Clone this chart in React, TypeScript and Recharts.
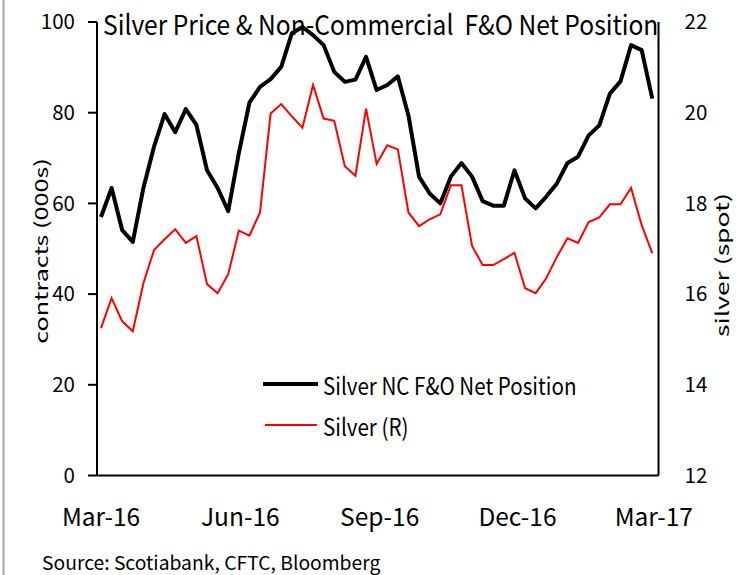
import React from "react";
import { LineChart, Line, XAxis, YAxis, Legend } from "recharts";

// weekly CFTC report dates (Tuesdays)
const weeks = [
  "2016-03-01", "2016-03-08", "2016-03-15", "2016-03-22", "2016-03-29",
  "2016-04-05", "2016-04-12", "2016-04-19", "2016-04-26",
  "2016-05-03", "2016-05-10", "2016-05-17", "2016-05-24", "2016-05-31",
  "2016-06-07", "2016-06-14", "2016-06-21", "2016-06-28",
  "2016-07-05", "2016-07-12", "2016-07-19", "2016-07-26",
  "2016-08-02", "2016-08-09", "2016-08-16", "2016-08-23", "2016-08-30",
  "2016-09-06", "2016-09-13", "2016-09-20", "2016-09-27",
  "2016-10-04", "2016-10-11", "2016-10-18", "2016-10-25",
  "2016-11-01", "2016-11-08", "2016-11-15", "2016-11-22", "2016-11-29",
  "2016-12-06", "2016-12-13", "2016-12-20", "2016-12-27",
  "2017-01-03", "2017-01-10", "2017-01-17", "2017-01-24", "2017-01-31",
  "2017-02-07", "2017-02-14", "2017-02-21", "2017-02-28",
];

// contracts (000s), left axis
const netPosition = [
  57.0, 63.4, 54.1, 51.5, 63.4, 72.5, 79.7, 75.7, 80.8, 77.3,
  67.3, 63.4, 58.3, 71.1, 82.2, 85.7, 87.4, 90.1, 97.5, 98.9,
  97.1, 94.9, 89.0, 86.8, 87.3, 92.3, 85.0, 86.1, 88.0, 79.4,
  65.9, 62.2, 60.0, 65.9, 68.9, 65.9, 60.5, 59.5, 59.5, 67.3,
  61.1, 58.9, 61.5, 64.4, 68.9, 70.3, 75.0, 77.2, 84.2, 86.9,
  94.9, 93.8, 83.1,
];

// silver spot, right axis
const silverSpot = [
  15.25, 15.91, 15.40, 15.18, 16.24, 16.97, 17.21, 17.43, 17.13, 17.28,
  16.22, 16.02, 16.44, 17.40, 17.29, 17.80, 19.98, 20.19, 19.92, 19.67,
  20.61, 19.87, 19.82, 18.82, 18.61, 20.09, 18.87, 19.28, 19.19, 17.80,
  17.50, 17.65, 17.76, 18.40, 18.40, 17.06, 16.64, 16.64, 16.77, 16.91,
  16.13, 16.02, 16.35, 16.82, 17.23, 17.13, 17.59, 17.69, 17.98, 17.98,
  18.34, 17.52, 16.90,
];

const xTickDates = ["2016-03-01", "2016-06-01", "2016-09-01", "2016-12-01", "2017-03-01"];
const xTickLabels = ["Mar-16", "Jun-16", "Sep-16", "Dec-16", "Mar-17"];
const leftTicks = [0, 20, 40, 60, 80, 100];
const rightTicks = [12, 14, 16, 18, 20, 22];

const FONT = '"Noto Sans CJK SC", Lato, sans-serif';
const DAY = 86400000;
const toTime = (d: string) => Date.parse(d + "T00:00:00Z");

const data = weeks.map((w, i) => ({ t: toTime(w), net: netPosition[i], silver: silverSpot[i] }));
const xTicks = xTickDates.map(toTime);
const xDomain = [toTime(weeks[0]) - 2.64 * DAY, toTime(weeks[weeks.length - 1]) + 4.1 * DAY];
const fmtX = (v: number) => xTickLabels[xTicks.indexOf(v)] ?? "";

const axisStroke = { stroke: "#000", strokeWidth: 2 };

// legend rows, in the reference's order
const legendRows: Record<string, { row: number; x1: number; x2: number; w: number }> = {
  net: { row: 0, x1: 1, x2: 56, w: 4 },
  silver: { row: 1, x1: 3, x2: 55, w: 2 },
};
const rowLineY = [19, 60];
const rowTextY = [30, 71];

function LegendBox(props: any) {
  const payload = props.payload || [];
  return (
    <svg width={400} height={80} style={{ display: "block", overflow: "visible" }}>
      {payload.map((p: any) => {
        const r = legendRows[p.dataKey] || legendRows.net;
        return (
          <g key={p.dataKey}>
            <line
              x1={r.x1}
              x2={r.x2}
              y1={rowLineY[r.row]}
              y2={rowLineY[r.row]}
              stroke={p.color}
              strokeWidth={r.w}
            />
            <text
              transform={`translate(61,${rowTextY[r.row]}) scale(1,1.15)`}
              fontFamily={FONT}
              fontSize={20.6}
              fill="#000"
            >
              {p.value}
            </text>
          </g>
        );
      })}
    </svg>
  );
}

export default function App() {
  return (
    <div
      style={{
        position: "absolute",
        left: 0,
        top: 0,
        width: 739,
        height: 575,
        background: "#fff",
        overflow: "hidden",
        fontFamily: FONT,
      }}
    >
      <LineChart width={739} height={575} data={data} margin={{ top: 22, right: 0, bottom: 39.5, left: 0 }}>
        <XAxis
          type="number"
          dataKey="t"
          domain={xDomain}
          ticks={xTicks}
          tickFormatter={fmtX}
          interval={0}
          allowDataOverflow
          height={60}
          axisLine={axisStroke}
          tickLine={false}
          tickSize={0}
          tickMargin={33}
          tick={{ fill: "#000", fontSize: 24.5, fontFamily: FONT }}
        />
        <YAxis
          yAxisId="left"
          domain={[0, 100]}
          ticks={leftTicks}
          interval={0}
          width={97}
          axisLine={axisStroke}
          tickLine={axisStroke}
          tickSize={9}
          tickMargin={13}
          tick={{ fill: "#000", fontSize: 20.5, fontFamily: FONT }}
        />
        <YAxis
          yAxisId="right"
          orientation="right"
          domain={[12, 22]}
          ticks={rightTicks}
          interval={0}
          width={80.5}
          axisLine={axisStroke}
          tickLine={false}
          tickSize={0}
          tickMargin={26}
          tick={{ fill: "#000", fontSize: 20.5, fontFamily: FONT }}
        />
        <Legend
          layout="horizontal"
          verticalAlign="middle"
          align="center"
          itemSorter={null}
          content={<LegendBox />}
          wrapperStyle={{ position: "absolute", left: 262, top: 365, width: 400, height: 80 }}
        />
        <Line
          yAxisId="left"
          type="linear"
          dataKey="net"
          name="Silver NC F&O Net Position"
          stroke="#000"
          strokeWidth={4}
          strokeLinejoin="round"
          dot={false}
          activeDot={false}
          isAnimationActive={false}
        />
        <Line
          yAxisId="right"
          type="linear"
          dataKey="silver"
          name="Silver (R)"
          stroke="#ff0000"
          strokeWidth={2}
          dot={false}
          activeDot={false}
          isAnimationActive={false}
        />
      </LineChart>
      <svg
        width={739}
        height={575}
        style={{ position: "absolute", left: 0, top: 0, pointerEvents: "none" }}
      >
        <line x1={3.5} x2={3.5} y1={0} y2={575} stroke="#a6a6a6" strokeWidth={2} />
        <text
          transform="translate(103,35) scale(1,1.12)"
          fontFamily={FONT}
          fontSize={24.6}
          fill="#000"
          style={{ whiteSpace: "pre" }}
        >
          {"Silver Price & Non-Commercial  F&O Net Position"}
        </text>
        <text
          transform="translate(40,251) scale(1,1.4) rotate(-90)"
          textAnchor="middle"
          dominantBaseline="central"
          fontFamily={FONT}
          fontSize={18}
          fill="#000"
        >
          contracts (000s)
        </text>
        <text
          transform="translate(721.5,265) scale(1,1.47) rotate(-90)"
          textAnchor="middle"
          dominantBaseline="central"
          fontFamily={FONT}
          fontSize={18}
          fill="#000"
        >
          silver (spot)
        </text>
        <text x={42} y={570} fontFamily={FONT} fontSize={19.3} fill="#000">
          Source: Scotiabank, CFTC, Bloomberg
        </text>
      </svg>
    </div>
  );
}
